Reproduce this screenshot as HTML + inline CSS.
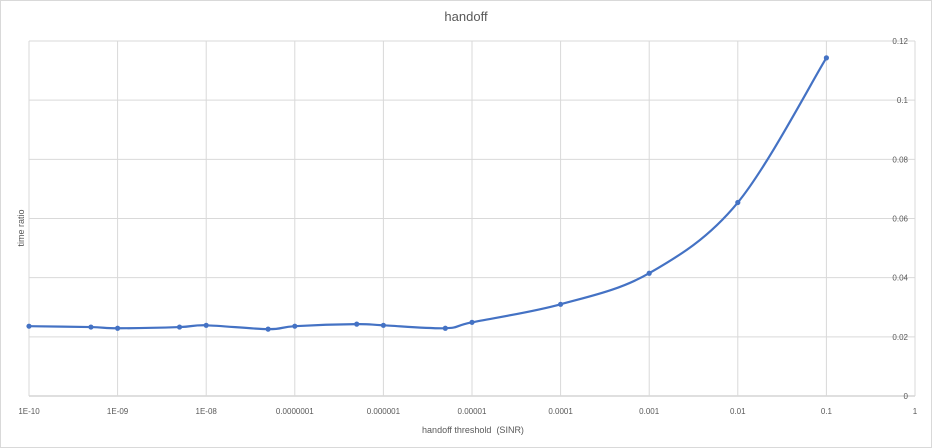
<!DOCTYPE html>
<html><head><meta charset="utf-8"><style>
body{margin:0;background:#fff}
svg{display:block;font-family:"Liberation Sans",sans-serif}
</style></head><body>
<svg id="chart" width="932" height="448" xmlns="http://www.w3.org/2000/svg">
<rect x="0.5" y="0.5" width="931" height="447" fill="#fff" stroke="#d9d9d9"/>
<text x="466" y="21" text-anchor="middle" font-size="13" fill="#595959">handoff</text>
<text x="24" y="228" transform="rotate(-90 24 228)" text-anchor="middle" font-size="9" fill="#595959">time ratio</text>
<text x="473" y="433" text-anchor="middle" font-size="9" fill="#595959" xml:space="preserve">handoff threshold  (SINR)</text>
<g id="grid"></g><g id="series"></g>
</svg>
<script>
const xValues=[1e-10,5e-10,1e-9,5e-9,1e-8,5e-8,1e-7,5e-7,1e-6,5e-6,1e-5,1e-4,1e-3,1e-2,1e-1];
const yValues=[0.0236,0.0233,0.0229,0.0233,0.0239,0.0226,0.0236,0.0243,0.0239,0.0229,0.0249,0.031,0.0415,0.0654,0.1143];
const xTickLabels=["1E-10","1E-09","1E-08","0.0000001","0.000001","0.00001","0.0001","0.001","0.01","0.1","1"];
const yTickLabels=["0","0.02","0.04","0.06","0.08","0.1","0.12"];
const L=29,R=915,T=41,B=396;
const xs=v=>L+(Math.log10(v)+10)/10*(R-L);
const ys=v=>B-v/0.12*(B-T);
const NS="http://www.w3.org/2000/svg";
const g=document.getElementById('grid'),s=document.getElementById('series');
function mk(tag,attrs,parent){const e=document.createElementNS(NS,tag);for(const k in attrs)e.setAttribute(k,attrs[k]);parent.appendChild(e);return e;}
yTickLabels.forEach((t,i)=>{const v=i*0.02,y=ys(v);
 const l=mk('line',{x1:L,x2:R,y1:y,y2:y,stroke:i==0?'#bfbfbf':'#d9d9d9'},g);
 
 
 const tx=mk('text',{x:908,y:y+3,'text-anchor':'end','font-size':'8','fill':'#595959'},g);tx.textContent=t;
 
 
});
xTickLabels.forEach((t,i)=>{const x=xs(Math.pow(10,i-10));
 const l=mk('line',{x1:x,x2:x,y1:T,y2:B,stroke:'#d9d9d9'},g);
 
 
 const tx=mk('text',{x:x,y:414,'text-anchor':'middle','font-size':'8','fill':'#595959'},g);tx.textContent=t;
 
 
});
const pts=xValues.map((v,i)=>[xs(v),ys(yValues[i])]);
let d='M'+pts[0][0]+','+pts[0][1];
for(let i=0;i<pts.length-1;i++){const p0=pts[Math.max(0,i-1)],p1=pts[i],p2=pts[i+1],p3=pts[Math.min(pts.length-1,i+2)];
 const k=1/6;
 d+=' C'+(p1[0]+(p2[0]-p0[0])*k)+','+(p1[1]+(p2[1]-p0[1])*k)+' '+(p2[0]-(p3[0]-p1[0])*k)+','+(p2[1]-(p3[1]-p1[1])*k)+' '+p2[0]+','+p2[1];}
const path=mk('path',{d:d,fill:'none',stroke:'#4472c4','stroke-width':'2.2'},s);


pts.forEach(p=>{const c=mk('circle',{cx:p[0],cy:p[1],r:2.6,fill:'#4472c4'},s);
 
 
});
</script>
</body></html>
